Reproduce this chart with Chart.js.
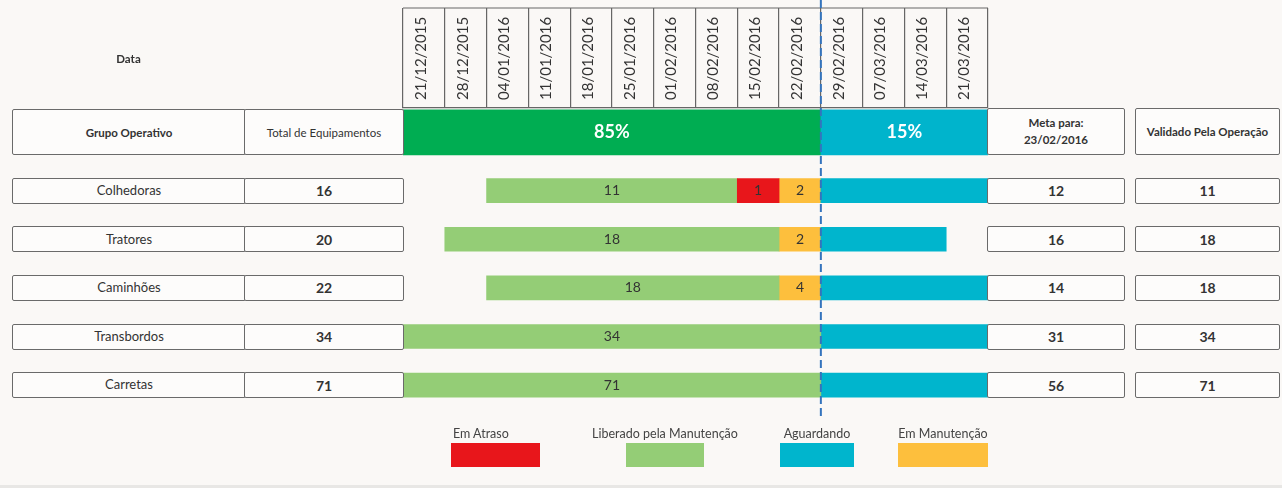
<!DOCTYPE html>
<html>
<head>
<meta charset="utf-8">
<script src="https://cdn.jsdelivr.net/npm/chart.js@4.4.1/dist/chart.umd.min.js"></script>
<style>
  body { margin: 0; background: #faf8f6; }
  #wrap { position: relative; width: 1282px; height: 488px; overflow: hidden;
          font-family: Lato, 'Open Sans', sans-serif; color: #333; }
  #chart { position: absolute; left: 0; top: 0; }
  .cell { position: absolute; box-sizing: border-box; border: 1.5px solid #6a6a6a; border-radius: 2px;
          background: #fdfcfb; display: flex; align-items: center; justify-content: center;
          text-align: center; font-size: 13px; line-height: 1.5; }
  .num { font-weight: bold; font-size: 14px; }
  .hdr { font-size: 11.5px; }
  .bold { font-weight: bold; }
  .lg-label { position: absolute; font-size: 12.5px; color: #444; white-space: nowrap; text-align: center; }
  .lg-box { position: absolute; height: 24px; }
  #data { position: absolute; left: 12px; width: 233px; top: 52px; text-align: center; font-size: 11.5px; font-weight: bold; }
  #foot { position: absolute; left: 0; top: 485px; width: 1282px; height: 3px; background: #e8e7e5; }
</style>
</head>
<body>
<div id="wrap">
  <canvas id="chart" width="1282" height="488"></canvas>
  <div id="data">Data</div>
  <div id="foot"></div>
</div>
<script>
const dates = ['21/12/2015', '28/12/2015', '04/01/2016', '11/01/2016', '18/01/2016', '25/01/2016', '01/02/2016',
               '08/02/2016', '15/02/2016', '22/02/2016', '29/02/2016', '07/03/2016', '14/03/2016', '21/03/2016'];
const groups = ['Colhedoras', 'Tratores', 'Caminhões', 'Transbordos', 'Carretas'];
const totalEquip = [16, 20, 22, 34, 71];
const metaValues = [12, 16, 14, 31, 56];
const validados = [11, 18, 18, 34, 71];

// spans in week columns [from, to]
const atrasoSpans = [[8, 9], null, null, null, null];
const atrasoValues = [1, null, null, null, null];
const liberadoSpans = [[2, 8], [1, 9], [2, 9], [0, 10], [0, 10]];
const liberadoValues = [11, 18, 18, 34, 71];
const aguardandoSpans = [[10, 14], [10, 13], [10, 14], [10, 14], [10, 14]];
const manutencaoSpans = [[9, 10], [9, 10], [9, 10], null, null];
const manutencaoValues = [2, 2, 4, null, null];

const overallSpans = [[0, 10], [10, 14]];
const overallLabels = ['85%', '15%'];
const cutoffWeek = 10;

const metaTitle = ['Meta para:', '23/02/2016'];

const HEADER_ROW = -0.2;
const FONT = "Lato, 'Open Sans', sans-serif";

function buildSeries(spans, values) {
    const data = [];
    const labels = [];
    spans.forEach((span, i) => {
        if (!span) return;
        data.push({ x: span, y: i + 1 });
        labels.push(values ? values[i] : null);
    });
    return { data, labels };
}

const atraso = buildSeries(atrasoSpans, atrasoValues);
const liberado = buildSeries(liberadoSpans, liberadoValues);
const aguardando = buildSeries(aguardandoSpans, null);
const manutencao = buildSeries(manutencaoSpans, manutencaoValues);

const barLabels = {
    id: 'barLabels',
    afterDatasetsDraw(chart) {
        const ctx = chart.ctx;
        chart.data.datasets.forEach((ds, di) => {
            if (!ds.valueLabels) return;
            chart.getDatasetMeta(di).data.forEach((el, i) => {
                const txt = ds.valueLabels[i];
                if (txt == null) return;
                const { x, base, y } = el.getProps(['x', 'base', 'y'], true);
                ctx.save();
                ctx.fillStyle = ds.labelColor || '#333';
                ctx.font = ds.labelFont || `14px ${FONT}`;
                ctx.textAlign = 'center';
                ctx.textBaseline = 'middle';
                ctx.fillText(txt, (x + base) / 2, y);
                ctx.restore();
            });
        });
    }
};

const frameLines = {
    id: 'frameLines',
    afterDraw(chart) {
        const ctx = chart.ctx;
        const xs = chart.scales.x;
        ctx.save();
        // top edge of the date boxes
        ctx.strokeStyle = '#666';
        ctx.lineWidth = 1.2;
        ctx.beginPath();
        ctx.moveTo(xs.left, xs.top);
        ctx.lineTo(xs.right, xs.top);
        ctx.stroke();
        // cut-off line
        const cx = xs.getPixelForValue(cutoffWeek);
        ctx.strokeStyle = '#3474bd';
        ctx.lineWidth = 2;
        ctx.setLineDash([8, 4]);
        ctx.beginPath();
        ctx.moveTo(cx, 0);
        ctx.lineTo(cx, chart.chartArea.bottom + 12);
        ctx.stroke();
        ctx.restore();
    }
};

const chart = new Chart(document.getElementById('chart'), {
    type: 'bar',
    data: {
        datasets: [
            {
                label: 'overall',
                data: overallSpans.map(s => ({ x: s, y: HEADER_ROW })),
                backgroundColor: ['#00ad52', '#00b4cc'],
                barThickness: 45,
                valueLabels: overallLabels,
                labelColor: '#ffffff',
                labelFont: `bold 18px ${FONT}`,
                hideLegend: true
            },
            {
                label: 'Em Atraso',
                data: atraso.data,
                valueLabels: atraso.labels,
                backgroundColor: '#e8161b'
            },
            {
                label: 'Liberado pela Manutenção',
                data: liberado.data,
                valueLabels: liberado.labels,
                backgroundColor: '#94cd76'
            },
            {
                label: 'Aguardando',
                data: aguardando.data,
                backgroundColor: '#00b5cd'
            },
            {
                label: 'Em Manutenção',
                data: manutencao.data,
                valueLabels: manutencao.labels,
                backgroundColor: '#fdbf3d'
            }
        ]
    },
    options: {
        indexAxis: 'y',
        responsive: false,
        animation: false,
        layout: { padding: { left: 403, right: 294, top: 8, bottom: 80 } },
        datasets: { bar: { grouped: false, barThickness: 24, borderWidth: 0 } },
        plugins: { legend: { display: false }, tooltip: { enabled: false } },
        scales: {
            x: {
                type: 'linear', position: 'top', min: 0, max: 14, weight: 0, offset: false,
                afterBuildTicks: s => { s.ticks = dates.map((d, i) => ({ value: i + 0.5 })); },
                afterFit: s => { s.height = 100; },
                grid: { display: false, drawTicks: false },
                border: { display: false },
                ticks: {
                    autoSkip: false, minRotation: 90, maxRotation: 90, padding: 8, labelOffset: 15,
                    color: '#333', font: { family: FONT, size: 15 },
                    callback: (v, i) => dates[i]
                }
            },
            xCols: {
                type: 'linear', position: 'top', min: 0, max: 14, weight: -1, offset: false,
                afterFit: s => { s.height = 0; },
                ticks: { display: false, stepSize: 1 },
                grid: { drawOnChartArea: false, drawTicks: true, tickLength: 100, color: '#666', lineWidth: 1.2 },
                border: { display: true, color: '#666', width: 1.2 }
            },
            y: { type: 'linear', display: false, reverse: true, offset: false, min: -0.7, max: 5.47 }
        }
    },
    plugins: [barLabels, frameLines]
});

// table cells next to the bars, placed on the chart's row positions
const wrap = document.getElementById('wrap');
const yScale = chart.scales.y;

function addCell(left, width, top, height, html, cls) {
    const d = document.createElement('div');
    d.className = 'cell' + (cls ? ' ' + cls : '');
    d.style.left = left + 'px';
    d.style.width = width + 'px';
    d.style.top = top + 'px';
    d.style.height = height + 'px';
    d.innerHTML = html;
    wrap.appendChild(d);
}

const hy = yScale.getPixelForValue(HEADER_ROW);
addCell(12, 234, hy - 23, 46, 'Grupo Operativo', 'hdr bold');
addCell(244, 160, hy - 23, 46, 'Total de Equipamentos', 'hdr');
addCell(987, 138, hy - 24.5, 47, metaTitle.join('<br>'), 'hdr bold');
addCell(1135, 145, hy - 24.5, 47, 'Validado Pela Operação', 'hdr bold');

groups.forEach((g, i) => {
    const cy = yScale.getPixelForValue(i + 1);
    addCell(12, 234, cy - 13, 26, g, '');
    addCell(244, 160, cy - 13, 26, totalEquip[i], 'num');
    addCell(987, 138, cy - 13, 26, metaValues[i], 'num');
    addCell(1135, 145, cy - 13, 26, validados[i], 'num');
});

// legend built from the datasets
const legendLeft = [451, 626, 780, 898];
const legendBoxW = [89, 78, 74, 90];
chart.data.datasets.filter(ds => !ds.hideLegend).forEach((ds, i) => {
    const box = document.createElement('div');
    box.className = 'lg-box';
    box.style.left = legendLeft[i] + 'px';
    box.style.width = legendBoxW[i] + 'px';
    box.style.top = '443px';
    box.style.background = ds.backgroundColor;
    wrap.appendChild(box);
    const lab = document.createElement('div');
    lab.className = 'lg-label';
    lab.textContent = ds.label;
    lab.style.top = '426px';
    lab.style.left = (legendLeft[i] + legendBoxW[i] / 2 - 100) + 'px';
    lab.style.width = '200px';
    if (i === 0) { lab.style.left = (legendLeft[i] + 2) + 'px'; lab.style.width = 'auto'; lab.style.textAlign = 'left'; }
    wrap.appendChild(lab);
});
</script>
</body>
</html>
